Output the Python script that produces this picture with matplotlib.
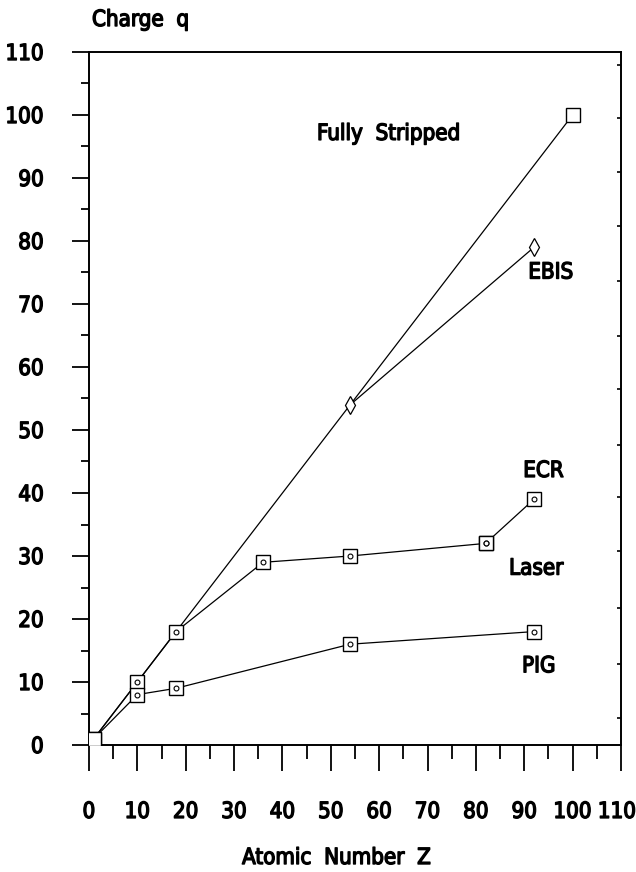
import numpy as np
import matplotlib
matplotlib.use('Agg')
import matplotlib.pyplot as plt
import matplotlib.patheffects as pe
import matplotlib.transforms as mtransforms
from matplotlib import font_manager
from matplotlib.ticker import MultipleLocator

# the original plotter font is a narrow, heavy sans: take the first condensed
# face that is installed and thicken it with a thin stroke
narrow = None
for f in font_manager.fontManager.ttflist:
    if 'Narrow' in f.name or 'Condensed' in f.name or f.stretch in ('condensed', 'semi-condensed'):
        narrow = f.name
        break
if narrow is not None:
    plt.rcParams['font.family'] = [narrow, 'Liberation Sans', 'DejaVu Sans']
    plt.rcParams['font.stretch'] = 'condensed'
    fake_bold = [pe.withStroke(linewidth=1.0, foreground='black')]
    fs = 16
else:
    plt.rcParams['font.family'] = ['Liberation Sans', 'DejaVu Sans']
    plt.rcParams['font.weight'] = 'bold'
    fake_bold = []
    fs = 14.5

# charge state vs atomic number for different ion sources
full_z = [1, 100]
full_q = [1, 100]

ebis_z = [54, 92]
ebis_q = [54, 79]

laser_z = [1, 10, 18, 36, 54, 82]
laser_q = [1, 10, 18, 29, 30, 32]

ecr_z = [82, 92]
ecr_q = [32, 39]

pig_z = [1, 10, 18, 54, 92]
pig_q = [1, 8, 9, 16, 18]

labels = ['Fully  Stripped', 'EBIS', 'ECR', 'Laser', 'PIG']
label_z = [62, 95.5, 94, 92.5, 93]
label_q = [97, 75, 43.5, 28, 12.5]

right_ticks = [4.3, 12.9, 21.7, 30.8, 39.4, 47.6, 56.5, 64.9, 73.6, 82.4, 91.0, 99.5, 108.0]

fig = plt.figure(figsize=(6.36, 8.72), dpi=100)
ax = fig.add_axes([89/636, 127/872, 532/636, 693/872])

lw = 0.9
sq = dict(marker='s', ms=10, mfc='white', mec='black', mew=1.0)
dot = dict(marker='o', ms=3.5, mfc='white', mec='black', mew=0.8, ls='none')

ax.plot(full_z, full_q, color='black', lw=lw, **sq, zorder=3)
ax.plot(ebis_z, ebis_q, color='black', lw=lw, marker='d', ms=9, mfc='white',
        mec='black', mew=0.9, zorder=3)
ax.plot(laser_z[1:], laser_q[1:], color='black', lw=lw, **sq, zorder=3)
ax.plot(laser_z[:2], laser_q[:2], color='black', lw=lw, zorder=2)
ax.plot(ecr_z, ecr_q, color='black', lw=lw, **sq, zorder=3)
ax.plot(pig_z[1:], pig_q[1:], color='black', lw=lw, **sq, zorder=3)
ax.plot(pig_z[:2], pig_q[:2], color='black', lw=lw, zorder=2)

# little circles inside the square markers
ax.plot(laser_z[1:], laser_q[1:], zorder=4, **dot)
ax.plot(ecr_z, ecr_q, zorder=4, **dot)
ax.plot(pig_z[1:], pig_q[1:], zorder=4, **dot)

# redraw origin square on top
ax.plot(full_z[:1], full_q[:1], ls='none', zorder=5, **sq)

for t, z, q in zip(labels, label_z, label_q):
    ax.text(z, q, t, ha='center', va='center', fontsize=fs, path_effects=fake_bold)

ax.set_xlim(0, 110)
ax.set_ylim(0, 110)
ax.xaxis.set_major_locator(MultipleLocator(10))
ax.xaxis.set_minor_locator(MultipleLocator(5))
ax.yaxis.set_major_locator(MultipleLocator(10))
ax.yaxis.set_minor_locator(MultipleLocator(5))

ax.tick_params(axis='x', which='major', direction='out', length=19, width=1.3,
               pad=22, labelsize=fs)
ax.tick_params(axis='x', which='minor', direction='out', length=10, width=1.3)
ax.tick_params(axis='y', which='major', direction='out', length=12.5, width=1.3,
               pad=20, labelsize=fs)
ax.tick_params(axis='y', which='minor', direction='out', length=6, width=1.3)
for lab in ax.get_xticklabels() + ax.get_yticklabels():
    lab.set_path_effects(fake_bold)

# nudge the last x label in a little so it stays inside the picture
shift = mtransforms.ScaledTranslation(-4/100, 0, fig.dpi_scale_trans)
for tick in ax.xaxis.get_major_ticks():
    if abs(tick.get_loc() - 110) < 1e-6:
        tick.label1.set_transform(tick.label1.get_transform() + shift)

for s in ax.spines.values():
    s.set_linewidth(1.4)

ax2 = ax.twinx()
ax2.set_ylim(0, 110)
ax2.set_yticks(right_ticks)
ax2.tick_params(axis='y', direction='in', length=3, width=1.2, labelright=False)
for s in ax2.spines.values():
    s.set_visible(False)

fig.text(92/636, 1 - 20/872, 'Charge  q', ha='left', va='center',
         fontsize=fs, path_effects=fake_bold)
fig.text(337/636, 1 - 858/872, 'Atomic  Number  Z', ha='center', va='center',
         fontsize=fs, path_effects=fake_bold)

fig.savefig('out.png', dpi=100)
